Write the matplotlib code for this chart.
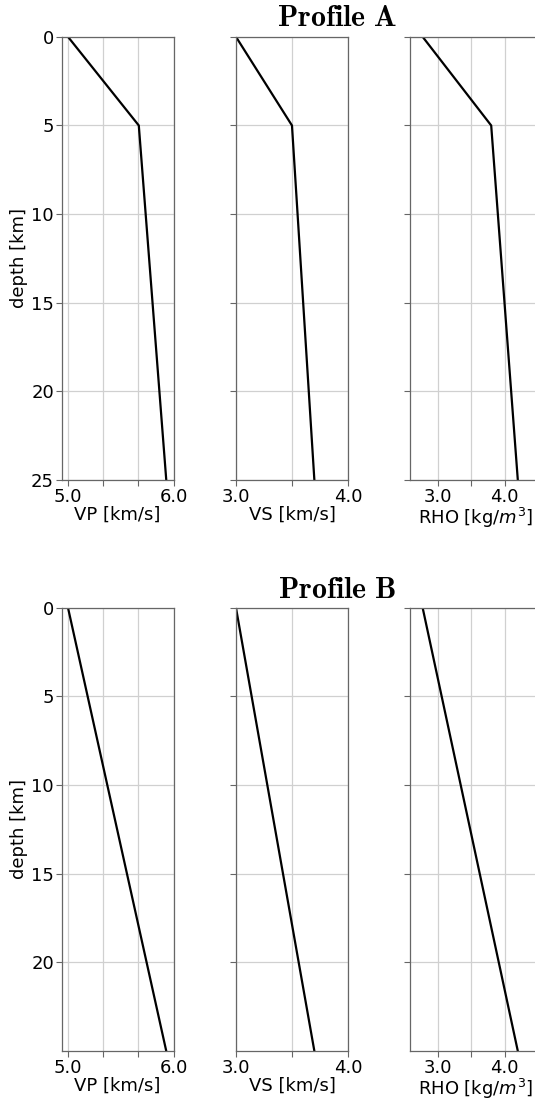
import numpy as np
import matplotlib
matplotlib.use('Agg')
import matplotlib.pyplot as plt

# Profile A: two gradients with a kink at 5 km
depth_a = [0, 5, 25]
vp_a = [5.0, 5.67, 5.93]
vs_a = [3.0, 3.5, 3.7]
rho_a = [2.77, 3.8, 4.2]

# Profile B: single linear gradient
depth_b = [0, 25]
vp_b = [5.0, 5.93]
vs_b = [3.0, 3.7]
rho_b = [2.77, 4.2]

titles = ['Profile A', 'Profile B']
xlabels = ['VP [km/s]', 'VS [km/s]', 'RHO [kg/$m^3$]']
xlims = [(4.94, 6.0), (3.0, 4.0), (2.58, 4.55)]
xticks = [[5.0, 5.333, 5.667, 6.0], [3.0, 3.5, 4.0], [3.0, 3.5, 4.0, 4.5]]
xticklabels = [['5.0', '', '', '6.0'], ['3.0', '', '4.0'], ['3.0', '', '4.0', '']]
yticks = [[0, 5, 10, 15, 20, 25], [0, 5, 10, 15, 20]]

profiles = [(depth_a, [vp_a, vs_a, rho_a]), (depth_b, [vp_b, vs_b, rho_b])]

fig = plt.figure(figsize=(5.35, 11), dpi=100)

lefts = [0.1153, 0.4411, 0.7664]
widths = [0.2093, 0.2093, 0.245]
bottoms = [0.5636, 0.0445]
height = 0.4029
title_y = [0.984, 0.4645]

for row, (depth, series) in enumerate(profiles):
    for col in range(3):
        ax = fig.add_axes([lefts[col], bottoms[row], widths[col], height])
        ax.plot(series[col], depth, color='black', lw=1.6)
        ax.set_xlim(xlims[col])
        ax.set_ylim(25, 0)
        ax.set_xticks(xticks[col])
        ax.set_xticklabels(xticklabels[col])
        ax.set_yticks(yticks[row])
        ax.grid(True, color='#d0d0d0', lw=0.9)
        ax.set_axisbelow(True)
        for sp in ax.spines.values():
            sp.set_color('#666666')
            sp.set_linewidth(0.9)
        ax.tick_params(colors='#666666', labelcolor='black', labelsize=13,
                       length=4, width=0.8, pad=1.5)
        ax.set_xlabel(xlabels[col], fontsize=13, labelpad=0)
        if col == 0:
            ax.set_ylabel('depth [km]', fontsize=13, labelpad=2)
        else:
            ax.set_yticklabels([])
    fig.text(0.63, title_y[row], r'$\mathbf{' + titles[row].replace(' ', r'\ ') + '}$',
             ha='center', va='center', fontsize=21.5, math_fontfamily='cm')

fig.savefig('out.png', dpi=100)
